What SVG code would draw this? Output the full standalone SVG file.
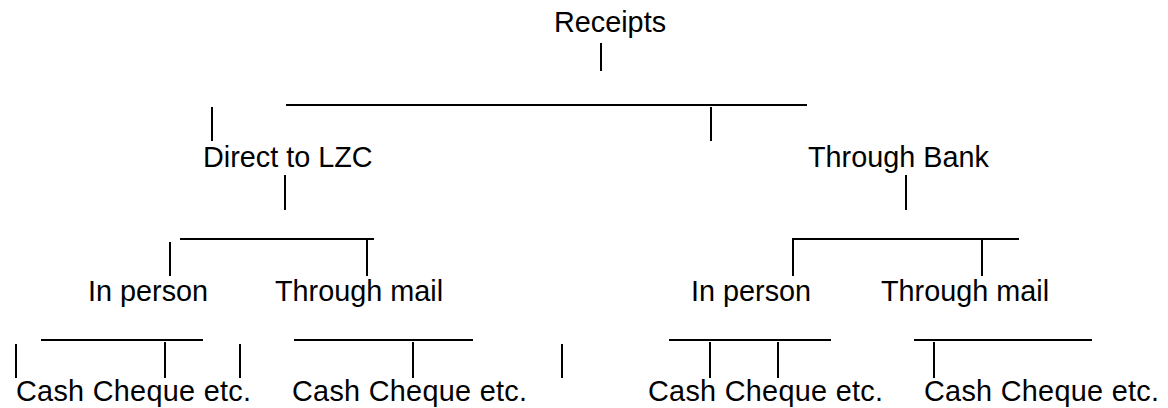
<svg xmlns="http://www.w3.org/2000/svg" width="1168" height="408" viewBox="0 0 1168 408">
  <style>
    .t { font-family: "Liberation Sans", Arial, sans-serif; font-size: 28.8px; fill: #000; }
    .c line { stroke: #000; stroke-width: 2; }
  </style>
  <rect width="1168" height="408" fill="#fff"/>
  <g id="connectors" class="c">
    <line x1="601" y1="43" x2="601" y2="71"/>
    <line x1="286" y1="105" x2="807" y2="105"/>
    <line x1="212" y1="107" x2="212" y2="141"/>
    <line x1="711" y1="107" x2="711" y2="141"/>
    <line x1="285" y1="175" x2="285" y2="210"/>
    <line x1="906" y1="175" x2="906" y2="210"/>
    <line x1="180" y1="239" x2="374" y2="239"/>
    <line x1="170" y1="242" x2="170" y2="276"/>
    <line x1="367" y1="240" x2="367" y2="276"/>
    <line x1="792" y1="239" x2="1019" y2="239"/>
    <line x1="793" y1="240" x2="793" y2="276"/>
    <line x1="982" y1="240" x2="982" y2="276"/>
    <line x1="41" y1="340" x2="203" y2="340"/>
    <line x1="16" y1="344" x2="16" y2="378"/>
    <line x1="165" y1="342" x2="165" y2="378"/>
    <line x1="240" y1="344" x2="240" y2="378"/>
    <line x1="294" y1="340" x2="473" y2="340"/>
    <line x1="413" y1="342" x2="413" y2="378"/>
    <line x1="562" y1="344" x2="562" y2="378"/>
    <line x1="669" y1="340" x2="831" y2="340"/>
    <line x1="710" y1="342" x2="710" y2="378"/>
    <line x1="778" y1="342" x2="778" y2="378"/>
    <line x1="914" y1="340" x2="1092" y2="340"/>
    <line x1="934" y1="342" x2="934" y2="378"/>
  </g>
  <g id="receipts"><text class="t" x="554" y="32">Receipts</text></g>
  <g id="direct"><text class="t" x="203" y="167">Direct to LZC</text></g>
  <g id="bank"><text class="t" x="808" y="167">Through Bank</text></g>
  <g id="direct-person"><text class="t" x="88" y="301">In person</text></g>
  <g id="direct-mail"><text class="t" x="275" y="301">Through mail</text></g>
  <g id="bank-person"><text class="t" x="691" y="301">In person</text></g>
  <g id="bank-mail"><text class="t" x="881" y="301">Through mail</text></g>
  <g id="direct-person-items"><text class="t" x="16" y="401" textLength="235" lengthAdjust="spacing">Cash Cheque etc.</text></g>
  <g id="direct-mail-items"><text class="t" x="292" y="401" textLength="235" lengthAdjust="spacing">Cash Cheque etc.</text></g>
  <g id="bank-person-items"><text class="t" x="648" y="401" textLength="235" lengthAdjust="spacing">Cash Cheque etc.</text></g>
  <g id="bank-mail-items"><text class="t" x="924" y="401" textLength="235" lengthAdjust="spacing">Cash Cheque etc.</text></g>
</svg>
